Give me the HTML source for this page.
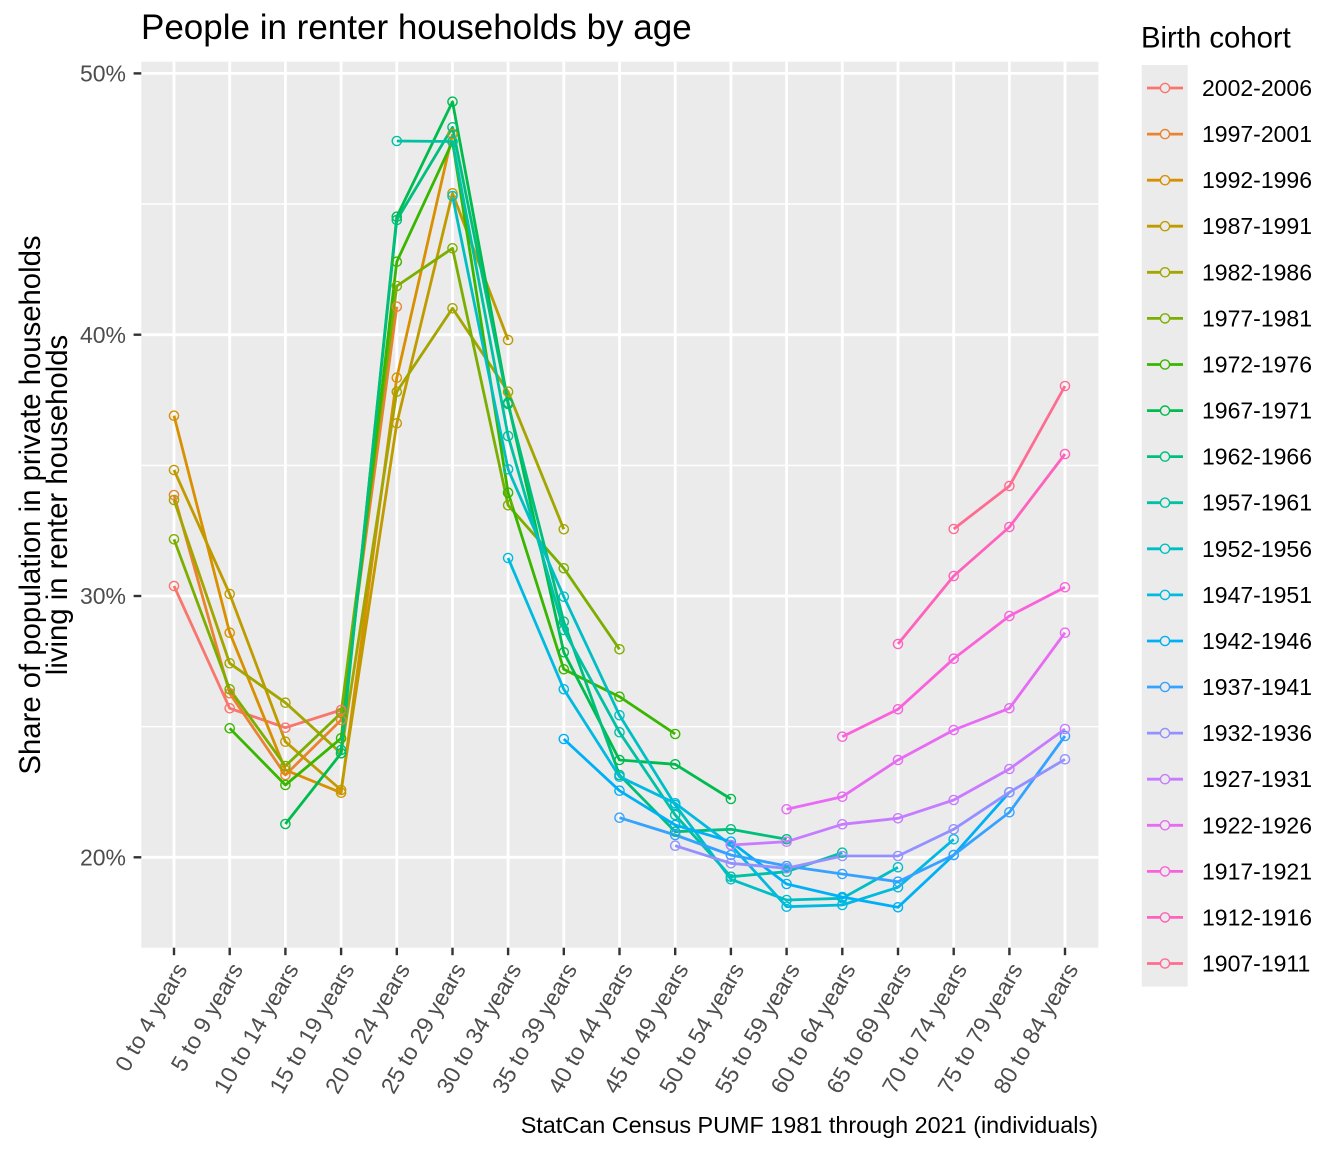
<!DOCTYPE html>
<html><head><meta charset="utf-8"><style>
html,body{margin:0;padding:0;background:#fff;}
svg{display:block;font-family:"Liberation Sans",Arial,sans-serif;}
</style></head><body>
<svg width="1344" height="1152" viewBox="0 0 1344 1152" xmlns="http://www.w3.org/2000/svg">
<defs>
<marker id="m0" markerWidth="12" markerHeight="12" refX="6" refY="6" markerUnits="userSpaceOnUse" overflow="visible"><circle cx="6" cy="6" r="4.6" fill="none" stroke="#F8766D" stroke-width="1.4"/></marker>
<marker id="m1" markerWidth="12" markerHeight="12" refX="6" refY="6" markerUnits="userSpaceOnUse" overflow="visible"><circle cx="6" cy="6" r="4.6" fill="none" stroke="#EA8331" stroke-width="1.4"/></marker>
<marker id="m2" markerWidth="12" markerHeight="12" refX="6" refY="6" markerUnits="userSpaceOnUse" overflow="visible"><circle cx="6" cy="6" r="4.6" fill="none" stroke="#D89000" stroke-width="1.4"/></marker>
<marker id="m3" markerWidth="12" markerHeight="12" refX="6" refY="6" markerUnits="userSpaceOnUse" overflow="visible"><circle cx="6" cy="6" r="4.6" fill="none" stroke="#C09B00" stroke-width="1.4"/></marker>
<marker id="m4" markerWidth="12" markerHeight="12" refX="6" refY="6" markerUnits="userSpaceOnUse" overflow="visible"><circle cx="6" cy="6" r="4.6" fill="none" stroke="#A3A500" stroke-width="1.4"/></marker>
<marker id="m5" markerWidth="12" markerHeight="12" refX="6" refY="6" markerUnits="userSpaceOnUse" overflow="visible"><circle cx="6" cy="6" r="4.6" fill="none" stroke="#7CAE00" stroke-width="1.4"/></marker>
<marker id="m6" markerWidth="12" markerHeight="12" refX="6" refY="6" markerUnits="userSpaceOnUse" overflow="visible"><circle cx="6" cy="6" r="4.6" fill="none" stroke="#39B600" stroke-width="1.4"/></marker>
<marker id="m7" markerWidth="12" markerHeight="12" refX="6" refY="6" markerUnits="userSpaceOnUse" overflow="visible"><circle cx="6" cy="6" r="4.6" fill="none" stroke="#00BB4E" stroke-width="1.4"/></marker>
<marker id="m8" markerWidth="12" markerHeight="12" refX="6" refY="6" markerUnits="userSpaceOnUse" overflow="visible"><circle cx="6" cy="6" r="4.6" fill="none" stroke="#00BF7D" stroke-width="1.4"/></marker>
<marker id="m9" markerWidth="12" markerHeight="12" refX="6" refY="6" markerUnits="userSpaceOnUse" overflow="visible"><circle cx="6" cy="6" r="4.6" fill="none" stroke="#00C1A3" stroke-width="1.4"/></marker>
<marker id="m10" markerWidth="12" markerHeight="12" refX="6" refY="6" markerUnits="userSpaceOnUse" overflow="visible"><circle cx="6" cy="6" r="4.6" fill="none" stroke="#00BFC4" stroke-width="1.4"/></marker>
<marker id="m11" markerWidth="12" markerHeight="12" refX="6" refY="6" markerUnits="userSpaceOnUse" overflow="visible"><circle cx="6" cy="6" r="4.6" fill="none" stroke="#00BAE0" stroke-width="1.4"/></marker>
<marker id="m12" markerWidth="12" markerHeight="12" refX="6" refY="6" markerUnits="userSpaceOnUse" overflow="visible"><circle cx="6" cy="6" r="4.6" fill="none" stroke="#00B0F6" stroke-width="1.4"/></marker>
<marker id="m13" markerWidth="12" markerHeight="12" refX="6" refY="6" markerUnits="userSpaceOnUse" overflow="visible"><circle cx="6" cy="6" r="4.6" fill="none" stroke="#35A2FF" stroke-width="1.4"/></marker>
<marker id="m14" markerWidth="12" markerHeight="12" refX="6" refY="6" markerUnits="userSpaceOnUse" overflow="visible"><circle cx="6" cy="6" r="4.6" fill="none" stroke="#9590FF" stroke-width="1.4"/></marker>
<marker id="m15" markerWidth="12" markerHeight="12" refX="6" refY="6" markerUnits="userSpaceOnUse" overflow="visible"><circle cx="6" cy="6" r="4.6" fill="none" stroke="#C77CFF" stroke-width="1.4"/></marker>
<marker id="m16" markerWidth="12" markerHeight="12" refX="6" refY="6" markerUnits="userSpaceOnUse" overflow="visible"><circle cx="6" cy="6" r="4.6" fill="none" stroke="#E76BF3" stroke-width="1.4"/></marker>
<marker id="m17" markerWidth="12" markerHeight="12" refX="6" refY="6" markerUnits="userSpaceOnUse" overflow="visible"><circle cx="6" cy="6" r="4.6" fill="none" stroke="#FA62DB" stroke-width="1.4"/></marker>
<marker id="m18" markerWidth="12" markerHeight="12" refX="6" refY="6" markerUnits="userSpaceOnUse" overflow="visible"><circle cx="6" cy="6" r="4.6" fill="none" stroke="#FF62BC" stroke-width="1.4"/></marker>
<marker id="m19" markerWidth="12" markerHeight="12" refX="6" refY="6" markerUnits="userSpaceOnUse" overflow="visible"><circle cx="6" cy="6" r="4.6" fill="none" stroke="#FF6C91" stroke-width="1.4"/></marker>
</defs>

<!-- Title -->
<text x="141" y="39" font-size="35" fill="#000">People in renter households by age</text>

<!-- Panel -->
<rect x="141.3" y="61.7" width="957.1" height="886" fill="#EBEBEB"/>
<g stroke="#FFFFFF" fill="none">
  <line x1="141.3" x2="1098.4" y1="726.7" y2="726.7" stroke-width="1.4"/>
  <line x1="141.3" x2="1098.4" y1="465.4" y2="465.4" stroke-width="1.4"/>
  <line x1="141.3" x2="1098.4" y1="204" y2="204" stroke-width="1.4"/>
  <line x1="141.3" x2="1098.4" y1="857.3" y2="857.3" stroke-width="2.8"/>
  <line x1="141.3" x2="1098.4" y1="596" y2="596" stroke-width="2.8"/>
  <line x1="141.3" x2="1098.4" y1="334.7" y2="334.7" stroke-width="2.8"/>
  <line x1="141.3" x2="1098.4" y1="73.4" y2="73.4" stroke-width="2.8"/>
  <g stroke-width="2.8">
  <line x1="174" x2="174" y1="61.7" y2="947.7"/>
  <line x1="229.7" x2="229.7" y1="61.7" y2="947.7"/>
  <line x1="285.4" x2="285.4" y1="61.7" y2="947.7"/>
  <line x1="341.1" x2="341.1" y1="61.7" y2="947.7"/>
  <line x1="396.8" x2="396.8" y1="61.7" y2="947.7"/>
  <line x1="452.5" x2="452.5" y1="61.7" y2="947.7"/>
  <line x1="508.1" x2="508.1" y1="61.7" y2="947.7"/>
  <line x1="563.8" x2="563.8" y1="61.7" y2="947.7"/>
  <line x1="619.5" x2="619.5" y1="61.7" y2="947.7"/>
  <line x1="675.2" x2="675.2" y1="61.7" y2="947.7"/>
  <line x1="730.9" x2="730.9" y1="61.7" y2="947.7"/>
  <line x1="786.6" x2="786.6" y1="61.7" y2="947.7"/>
  <line x1="842.3" x2="842.3" y1="61.7" y2="947.7"/>
  <line x1="898" x2="898" y1="61.7" y2="947.7"/>
  <line x1="953.7" x2="953.7" y1="61.7" y2="947.7"/>
  <line x1="1009.4" x2="1009.4" y1="61.7" y2="947.7"/>
  <line x1="1065" x2="1065" y1="61.7" y2="947.7"/>
  </g>
</g>

<!-- Lines -->
<g fill="none" stroke-width="2.8" stroke-linejoin="round" stroke-linecap="butt">
<polyline stroke="#F8766D" points="174,586 229.7,708.3 285.4,727.7 341.1,710"/>
<polyline stroke="#EA8331" points="174,495 229.7,693.3 285.4,775 341.1,720 396.8,306.7"/>
<polyline stroke="#D89000" points="174,415.7 229.7,632.7 285.4,770 341.1,792.7 396.8,377.7 452.5,134"/>
<polyline stroke="#C09B00" points="174,470 229.7,594 285.4,741.7 341.1,790 396.8,423.3 452.5,193.3 508.1,340"/>
<polyline stroke="#A3A500" points="174,500 229.7,663.3 285.4,702.7 341.1,753.3 396.8,391.7 452.5,308.3 508.1,391.7 563.8,529.3"/>
<polyline stroke="#7CAE00" points="174,539.3 229.7,689.3 285.4,766 341.1,713 396.8,286 452.5,248.3 508.1,505.3 563.8,568.3 619.5,649.3"/>
<polyline stroke="#39B600" points="229.7,728.3 285.4,785 341.1,738.3 396.8,261.7 452.5,141.7 508.1,492.7 563.8,669.3 619.5,696.7 675.2,734"/>
<polyline stroke="#00BB4E" points="285.4,824 341.1,753.3 396.8,216.7 452.5,101.7 508.1,402.7 563.8,652.3 619.5,760 675.2,764.3 730.9,799"/>
<polyline stroke="#00BF7D" points="341.1,750 396.8,220 452.5,127.3 508.1,404 563.8,621.7 619.5,775 675.2,831.7 730.9,829.3 786.6,839.3"/>
<polyline stroke="#00C1A3" points="396.8,141 452.5,141.5 508.1,436 563.8,630 619.5,732.3 675.2,815 730.9,876.7 786.6,871.7 842.3,852.7"/>
<polyline stroke="#00BFC4" points="452.5,196 508.1,469.3 563.8,596.7 619.5,715.3 675.2,805 730.9,879.3 786.6,900 842.3,898.3 898,867.3"/>
<polyline stroke="#00BAE0" points="508.1,558 563.8,689.3 619.5,776.7 675.2,803.3 730.9,845 786.6,906.7 842.3,905 898,887.3 953.7,839.3"/>
<polyline stroke="#00B0F6" points="563.8,739 619.5,790.7 675.2,825 730.9,841.7 786.6,884 842.3,897 898,907.3 953.7,855 1009.4,792.3"/>
<polyline stroke="#35A2FF" points="619.5,817.7 675.2,835 730.9,855 786.6,866 842.3,874 898,881.7 953.7,855 1009.4,812.3 1065,736"/>
<polyline stroke="#9590FF" points="675.2,845.7 730.9,863.3 786.6,868.3 842.3,856 898,856 953.7,829.3 1009.4,792.3 1065,759.3"/>
<polyline stroke="#C77CFF" points="730.9,845 786.6,841.7 842.3,824.3 898,818.3 953.7,800 1009.4,769 1065,729"/>
<polyline stroke="#E76BF3" points="786.6,809.3 842.3,796.7 898,760 953.7,730 1009.4,708.3 1065,632.7"/>
<polyline stroke="#FA62DB" points="842.3,736.7 898,709.3 953.7,658.7 1009.4,616 1065,587.3"/>
<polyline stroke="#FF62BC" points="898,644 953.7,576 1009.4,527 1065,454"/>
<polyline stroke="#FF6C91" points="953.7,529 1009.4,486 1065,386"/>
</g>

<!-- Points -->
<g fill="none" stroke="none">
<polyline marker-start="url(#m0)" marker-mid="url(#m0)" marker-end="url(#m0)" points="174,586 229.7,708.3 285.4,727.7 341.1,710"/>
<polyline marker-start="url(#m1)" marker-mid="url(#m1)" marker-end="url(#m1)" points="174,495 229.7,693.3 285.4,775 341.1,720 396.8,306.7"/>
<polyline marker-start="url(#m2)" marker-mid="url(#m2)" marker-end="url(#m2)" points="174,415.7 229.7,632.7 285.4,770 341.1,792.7 396.8,377.7 452.5,134"/>
<polyline marker-start="url(#m3)" marker-mid="url(#m3)" marker-end="url(#m3)" points="174,470 229.7,594 285.4,741.7 341.1,790 396.8,423.3 452.5,193.3 508.1,340"/>
<polyline marker-start="url(#m4)" marker-mid="url(#m4)" marker-end="url(#m4)" points="174,500 229.7,663.3 285.4,702.7 341.1,753.3 396.8,391.7 452.5,308.3 508.1,391.7 563.8,529.3"/>
<polyline marker-start="url(#m5)" marker-mid="url(#m5)" marker-end="url(#m5)" points="174,539.3 229.7,689.3 285.4,766 341.1,713 396.8,286 452.5,248.3 508.1,505.3 563.8,568.3 619.5,649.3"/>
<polyline marker-start="url(#m6)" marker-mid="url(#m6)" marker-end="url(#m6)" points="229.7,728.3 285.4,785 341.1,738.3 396.8,261.7 452.5,141.7 508.1,492.7 563.8,669.3 619.5,696.7 675.2,734"/>
<polyline marker-start="url(#m7)" marker-mid="url(#m7)" marker-end="url(#m7)" points="285.4,824 341.1,753.3 396.8,216.7 452.5,101.7 508.1,402.7 563.8,652.3 619.5,760 675.2,764.3 730.9,799"/>
<polyline marker-start="url(#m8)" marker-mid="url(#m8)" marker-end="url(#m8)" points="341.1,750 396.8,220 452.5,127.3 508.1,404 563.8,621.7 619.5,775 675.2,831.7 730.9,829.3 786.6,839.3"/>
<polyline marker-start="url(#m9)" marker-mid="url(#m9)" marker-end="url(#m9)" points="396.8,141 452.5,141.5 508.1,436 563.8,630 619.5,732.3 675.2,815 730.9,876.7 786.6,871.7 842.3,852.7"/>
<polyline marker-start="url(#m10)" marker-mid="url(#m10)" marker-end="url(#m10)" points="452.5,196 508.1,469.3 563.8,596.7 619.5,715.3 675.2,805 730.9,879.3 786.6,900 842.3,898.3 898,867.3"/>
<polyline marker-start="url(#m11)" marker-mid="url(#m11)" marker-end="url(#m11)" points="508.1,558 563.8,689.3 619.5,776.7 675.2,803.3 730.9,845 786.6,906.7 842.3,905 898,887.3 953.7,839.3"/>
<polyline marker-start="url(#m12)" marker-mid="url(#m12)" marker-end="url(#m12)" points="563.8,739 619.5,790.7 675.2,825 730.9,841.7 786.6,884 842.3,897 898,907.3 953.7,855 1009.4,792.3"/>
<polyline marker-start="url(#m13)" marker-mid="url(#m13)" marker-end="url(#m13)" points="619.5,817.7 675.2,835 730.9,855 786.6,866 842.3,874 898,881.7 953.7,855 1009.4,812.3 1065,736"/>
<polyline marker-start="url(#m14)" marker-mid="url(#m14)" marker-end="url(#m14)" points="675.2,845.7 730.9,863.3 786.6,868.3 842.3,856 898,856 953.7,829.3 1009.4,792.3 1065,759.3"/>
<polyline marker-start="url(#m15)" marker-mid="url(#m15)" marker-end="url(#m15)" points="730.9,845 786.6,841.7 842.3,824.3 898,818.3 953.7,800 1009.4,769 1065,729"/>
<polyline marker-start="url(#m16)" marker-mid="url(#m16)" marker-end="url(#m16)" points="786.6,809.3 842.3,796.7 898,760 953.7,730 1009.4,708.3 1065,632.7"/>
<polyline marker-start="url(#m17)" marker-mid="url(#m17)" marker-end="url(#m17)" points="842.3,736.7 898,709.3 953.7,658.7 1009.4,616 1065,587.3"/>
<polyline marker-start="url(#m18)" marker-mid="url(#m18)" marker-end="url(#m18)" points="898,644 953.7,576 1009.4,527 1065,454"/>
<polyline marker-start="url(#m19)" marker-mid="url(#m19)" marker-end="url(#m19)" points="953.7,529 1009.4,486 1065,386"/>
</g>

<!-- Y axis ticks & labels -->
<g stroke="#333333" stroke-width="2.4">
  <line x1="133.6" x2="141.3" y1="857.3" y2="857.3"/>
  <line x1="133.6" x2="141.3" y1="596" y2="596"/>
  <line x1="133.6" x2="141.3" y1="334.7" y2="334.7"/>
  <line x1="133.6" x2="141.3" y1="73.4" y2="73.4"/>
</g>
<g font-size="23" fill="#4D4D4D" text-anchor="end">
  <text x="126" y="865.5">20%</text>
  <text x="126" y="604.2">30%</text>
  <text x="126" y="342.9">40%</text>
  <text x="126" y="81.6">50%</text>
</g>

<!-- X axis ticks -->
<g stroke="#333333" stroke-width="2.4">
  <line x1="174" x2="174" y1="947.7" y2="955.2"/>
  <line x1="229.7" x2="229.7" y1="947.7" y2="955.2"/>
  <line x1="285.4" x2="285.4" y1="947.7" y2="955.2"/>
  <line x1="341.1" x2="341.1" y1="947.7" y2="955.2"/>
  <line x1="396.8" x2="396.8" y1="947.7" y2="955.2"/>
  <line x1="452.5" x2="452.5" y1="947.7" y2="955.2"/>
  <line x1="508.1" x2="508.1" y1="947.7" y2="955.2"/>
  <line x1="563.8" x2="563.8" y1="947.7" y2="955.2"/>
  <line x1="619.5" x2="619.5" y1="947.7" y2="955.2"/>
  <line x1="675.2" x2="675.2" y1="947.7" y2="955.2"/>
  <line x1="730.9" x2="730.9" y1="947.7" y2="955.2"/>
  <line x1="786.6" x2="786.6" y1="947.7" y2="955.2"/>
  <line x1="842.3" x2="842.3" y1="947.7" y2="955.2"/>
  <line x1="898" x2="898" y1="947.7" y2="955.2"/>
  <line x1="953.7" x2="953.7" y1="947.7" y2="955.2"/>
  <line x1="1009.4" x2="1009.4" y1="947.7" y2="955.2"/>
  <line x1="1065" x2="1065" y1="947.7" y2="955.2"/>
</g>
<g font-size="23" fill="#4D4D4D" text-anchor="end">
  <text transform="translate(188,969) rotate(-60)">0 to 4 years</text>
  <text transform="translate(243.7,969) rotate(-60)">5 to 9 years</text>
  <text transform="translate(299.4,969) rotate(-60)">10 to 14 years</text>
  <text transform="translate(355.1,969) rotate(-60)">15 to 19 years</text>
  <text transform="translate(410.8,969) rotate(-60)">20 to 24 years</text>
  <text transform="translate(466.5,969) rotate(-60)">25 to 29 years</text>
  <text transform="translate(522.1,969) rotate(-60)">30 to 34 years</text>
  <text transform="translate(577.8,969) rotate(-60)">35 to 39 years</text>
  <text transform="translate(633.5,969) rotate(-60)">40 to 44 years</text>
  <text transform="translate(689.2,969) rotate(-60)">45 to 49 years</text>
  <text transform="translate(744.9,969) rotate(-60)">50 to 54 years</text>
  <text transform="translate(800.6,969) rotate(-60)">55 to 59 years</text>
  <text transform="translate(856.3,969) rotate(-60)">60 to 64 years</text>
  <text transform="translate(912,969) rotate(-60)">65 to 69 years</text>
  <text transform="translate(967.7,969) rotate(-60)">70 to 74 years</text>
  <text transform="translate(1023.4,969) rotate(-60)">75 to 79 years</text>
  <text transform="translate(1079,969) rotate(-60)">80 to 84 years</text>
</g>

<!-- Y axis title -->
<g font-size="29.3" fill="#000" text-anchor="middle">
  <text transform="rotate(-90)" x="-505" y="40">Share of population in private households</text>
  <text transform="rotate(-90)" x="-505" y="67">living in renter households</text>
</g>

<!-- Caption -->
<text x="1098" y="1133" font-size="23.4" fill="#000" text-anchor="end">StatCan Census PUMF 1981 through 2021 (individuals)</text>

<!-- Legend -->
<text x="1141" y="47.7" font-size="29.3" fill="#000">Birth cohort</text>
<rect x="1141.7" y="65" width="46" height="921.6" fill="#EBEBEB"/>
<g stroke-width="2.8">
  <line x1="1147" x2="1183" y1="88" y2="88" stroke="#F8766D"/>
  <line x1="1147" x2="1183" y1="134.1" y2="134.1" stroke="#EA8331"/>
  <line x1="1147" x2="1183" y1="180.2" y2="180.2" stroke="#D89000"/>
  <line x1="1147" x2="1183" y1="226.2" y2="226.2" stroke="#C09B00"/>
  <line x1="1147" x2="1183" y1="272.3" y2="272.3" stroke="#A3A500"/>
  <line x1="1147" x2="1183" y1="318.4" y2="318.4" stroke="#7CAE00"/>
  <line x1="1147" x2="1183" y1="364.5" y2="364.5" stroke="#39B600"/>
  <line x1="1147" x2="1183" y1="410.6" y2="410.6" stroke="#00BB4E"/>
  <line x1="1147" x2="1183" y1="456.6" y2="456.6" stroke="#00BF7D"/>
  <line x1="1147" x2="1183" y1="502.7" y2="502.7" stroke="#00C1A3"/>
  <line x1="1147" x2="1183" y1="548.8" y2="548.8" stroke="#00BFC4"/>
  <line x1="1147" x2="1183" y1="594.9" y2="594.9" stroke="#00BAE0"/>
  <line x1="1147" x2="1183" y1="641" y2="641" stroke="#00B0F6"/>
  <line x1="1147" x2="1183" y1="687" y2="687" stroke="#35A2FF"/>
  <line x1="1147" x2="1183" y1="733.1" y2="733.1" stroke="#9590FF"/>
  <line x1="1147" x2="1183" y1="779.2" y2="779.2" stroke="#C77CFF"/>
  <line x1="1147" x2="1183" y1="825.3" y2="825.3" stroke="#E76BF3"/>
  <line x1="1147" x2="1183" y1="871.4" y2="871.4" stroke="#FA62DB"/>
  <line x1="1147" x2="1183" y1="917.4" y2="917.4" stroke="#FF62BC"/>
  <line x1="1147" x2="1183" y1="963.5" y2="963.5" stroke="#FF6C91"/>
</g>
<g fill="#EBEBEB" stroke-width="1.4">
  <circle cx="1165" cy="88" r="4.6" stroke="#F8766D"/>
  <circle cx="1165" cy="134.1" r="4.6" stroke="#EA8331"/>
  <circle cx="1165" cy="180.2" r="4.6" stroke="#D89000"/>
  <circle cx="1165" cy="226.2" r="4.6" stroke="#C09B00"/>
  <circle cx="1165" cy="272.3" r="4.6" stroke="#A3A500"/>
  <circle cx="1165" cy="318.4" r="4.6" stroke="#7CAE00"/>
  <circle cx="1165" cy="364.5" r="4.6" stroke="#39B600"/>
  <circle cx="1165" cy="410.6" r="4.6" stroke="#00BB4E"/>
  <circle cx="1165" cy="456.6" r="4.6" stroke="#00BF7D"/>
  <circle cx="1165" cy="502.7" r="4.6" stroke="#00C1A3"/>
  <circle cx="1165" cy="548.8" r="4.6" stroke="#00BFC4"/>
  <circle cx="1165" cy="594.9" r="4.6" stroke="#00BAE0"/>
  <circle cx="1165" cy="641" r="4.6" stroke="#00B0F6"/>
  <circle cx="1165" cy="687" r="4.6" stroke="#35A2FF"/>
  <circle cx="1165" cy="733.1" r="4.6" stroke="#9590FF"/>
  <circle cx="1165" cy="779.2" r="4.6" stroke="#C77CFF"/>
  <circle cx="1165" cy="825.3" r="4.6" stroke="#E76BF3"/>
  <circle cx="1165" cy="871.4" r="4.6" stroke="#FA62DB"/>
  <circle cx="1165" cy="917.4" r="4.6" stroke="#FF62BC"/>
  <circle cx="1165" cy="963.5" r="4.6" stroke="#FF6C91"/>
</g>
<g font-size="23" fill="#000">
  <text x="1202" y="96">2002-2006</text>
  <text x="1202" y="142.1">1997-2001</text>
  <text x="1202" y="188.2">1992-1996</text>
  <text x="1202" y="234.2">1987-1991</text>
  <text x="1202" y="280.3">1982-1986</text>
  <text x="1202" y="326.4">1977-1981</text>
  <text x="1202" y="372.5">1972-1976</text>
  <text x="1202" y="418.6">1967-1971</text>
  <text x="1202" y="464.6">1962-1966</text>
  <text x="1202" y="510.7">1957-1961</text>
  <text x="1202" y="556.8">1952-1956</text>
  <text x="1202" y="602.9">1947-1951</text>
  <text x="1202" y="649">1942-1946</text>
  <text x="1202" y="695">1937-1941</text>
  <text x="1202" y="741.1">1932-1936</text>
  <text x="1202" y="787.2">1927-1931</text>
  <text x="1202" y="833.3">1922-1926</text>
  <text x="1202" y="879.4">1917-1921</text>
  <text x="1202" y="925.4">1912-1916</text>
  <text x="1202" y="971.5">1907-1911</text>
</g>
</svg>
</body></html>
